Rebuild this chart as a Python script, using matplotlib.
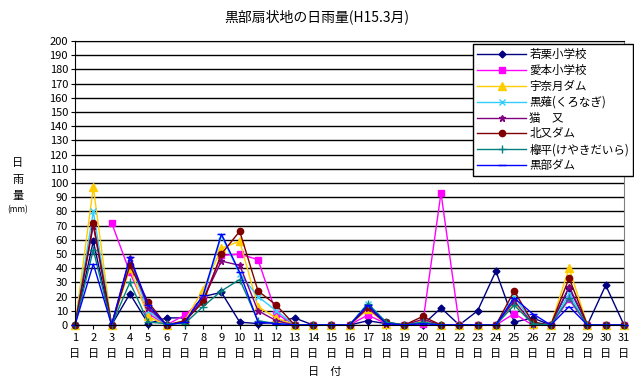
import matplotlib
matplotlib.use('Agg')
import numpy as np
from matplotlib import pyplot as plt

plt.rcParams['font.family'] = ['Noto Sans CJK JP', 'DejaVu Sans']

days = list(range(1, 32))

# daily rainfall (mm)
wakaguri = [0, 59, 0, 22, 1, 5, 5, 20, 23, 2, 1, 2, 5, 0, 0, 0, 3, 1, 0, 0, 12, 0, 10, 38, 2, 5, 0, 26, 0, 28, 0]
aimoto = [None, None, 72, 37, 8, 0, 7, 18, 49, 50, 46, 8, 0, 0, 0, 0, 7, 1, 0, 1, 93, 0, 0, 0, 8, 0, 0, 18, 0, 0, 0]
unazuki = [0, 97, 0, 40, 6, 0, 3, 25, 54, 59, 13, 5, 0, 0, 0, 0, 11, 1, 0, 3, 0, 0, 0, 0, 16, 1, 0, 40, 0, 0, 0]
kuronagi = [0, 80, 0, 44, 10, 0, 2, 19, 63, 36, 20, 10, 0, 0, 0, 0, 15, 2, 0, 2, 0, 0, 0, 0, 20, 2, 0, 22, 0, 0, 0]
nekomata = [0, 70, 0, 47, 12, 0, 2, 18, 45, 42, 10, 3, 0, 0, 0, 0, 12, 1, 0, 4, 0, 0, 0, 0, 17, 1, 0, 27, 0, 0, 0]
kitamata = [0, 72, 0, 42, 16, 0, 3, 16, 50, 66, 24, 14, 0, 0, 0, 0, 13, 2, 0, 6, 0, 0, 0, 0, 24, 2, 0, 33, 0, 0, 0]
keyakidaira = [0, 53, 0, 30, 2, 1, 1, 13, 24, 32, 3, 1, 0, 0, 0, 0, 15, 2, 0, 2, 0, 0, 0, 0, 14, 1, 0, 19, 0, 0, 0]
kurobe = [0, 43, 0, 48, 14, 0, 2, 21, 64, 37, 2, 1, 0, 0, 0, 0, 14, 1, 0, 1, 0, 0, 0, 0, 19, 8, 0, 13, 0, 0, 0]

series = [
    ('若栗小学校', wakaguri, '#000080', 'D', 3.5),
    ('愛本小学校', aimoto, '#FF00FF', 's', 4.5),
    ('宇奈月ダム', unazuki, '#FFCC00', '^', 5.5),
    ('黒薙(くろなぎ)', kuronagi, '#33CCFF', 'x', 4),
    ('猫　又', nekomata, '#800080', '*', 5),
    ('北又ダム', kitamata, '#800000', 'o', 4.5),
    ('欅平(けやきだいら)', keyakidaira, '#008080', '+', 6),
    ('黒部ダム', kurobe, '#0000FF', '_', 6),
]

fig = plt.figure(figsize=(6.34, 3.83), dpi=100)
ax = fig.add_axes([75 / 634, 1 - 325 / 383, 549 / 634, 284 / 383])

for name, vals, col, mk, ms in series:
    y = np.array([np.nan if v is None else v for v in vals], dtype=float)
    ax.plot(days, y, color=col, marker=mk, markersize=ms, linewidth=1,
            markeredgewidth=1, label=name, clip_on=False)

ax.set_xlim(1, 31)
ax.set_ylim(0, 200)
ax.set_yticks(range(0, 201, 10))
ax.set_xticks(days)
ax.set_xticklabels([f'{d}\n日' for d in days], fontsize=8, linespacing=1.7)
ax.tick_params(axis='y', labelsize=8, length=3, pad=2)
ax.tick_params(axis='x', length=3, pad=3)
ax.grid(axis='y', color='black', linewidth=1)
ax.set_axisbelow(True)
ax.spines['right'].set_color('#808080')
ax.spines['top'].set_color('black')

fig.text(0.5, 1 - 17 / 383, '黒部扇状地の日雨量(H15.3月)', ha='center', va='center', fontsize=10)
fig.text(18 / 634, 1 - 163 / 383, '日', ha='center', va='center', fontsize=8)
fig.text(18 / 634, 1 - 180 / 383, '雨', ha='center', va='center', fontsize=8)
fig.text(18 / 634, 1 - 196 / 383, '量', ha='center', va='center', fontsize=8)
fig.text(18 / 634, 1 - 210 / 383, '(mm)', ha='center', va='center', fontsize=6)
fig.text(325 / 634, 1 - 372 / 383, '日　付', ha='center', va='center', fontsize=8)

leg = fig.legend(loc='upper right', bbox_to_anchor=(633 / 634, 1 - 44 / 383),
                 fontsize=8.3, frameon=True, fancybox=False, framealpha=1,
                 edgecolor='black', handlelength=4.2, labelspacing=0.25,
                 borderpad=0.35, handletextpad=0.3, borderaxespad=0)
leg.get_frame().set_linewidth(1)

fig.savefig('out.png', dpi=100)
